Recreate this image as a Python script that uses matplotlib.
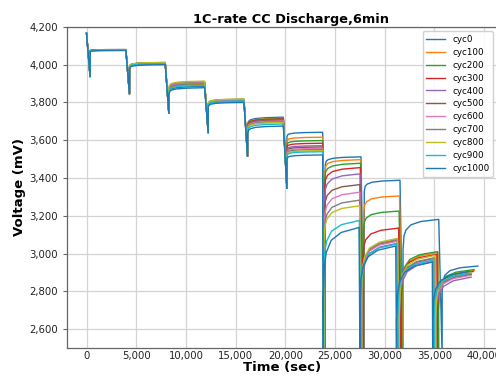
import numpy as np
import matplotlib
matplotlib.use("Agg")
import matplotlib.pyplot as plt
from matplotlib.ticker import FuncFormatter


# cycle labels (one curve each)
cycles = ['cyc0', 'cyc100', 'cyc200', 'cyc300', 'cyc400', 'cyc500',
          'cyc600', 'cyc700', 'cyc800', 'cyc900', 'cyc1000']

period = 3960       # 6 min pulse + 60 min rest [s]
pulse = 360         # pulse length for the first 6 steps [s]
rest = 3600         # rest after each pulse [s]
v_init = 4166       # OCV at t=0 [mV]
v_cut = 2450        # steps 7-10 run below the axis

# end-of-pulse voltage for steps 1-6 [mV]
v_min_early = [3937, 3845, 3743, 3640, 3515, 3345]
# gap between jump-back voltage and final rest voltage, steps 1-6 [mV]
jump_gap_early = [6, 22, 35, 25, 40, 22]

# end-of-rest voltage per cycle, steps 1..10 [mV]
rest_mv = [
    [4080, 4005, 3885, 3806, 3722, 3642, 3512, 3388, 3181, 2934],
    [4080, 4008, 3895, 3810, 3716, 3616, 3497, 3305, 3005, 2910],
    [4079, 4010, 3900, 3812, 3714, 3598, 3478, 3225, 3010, 2915],
    [4079, 4010, 3905, 3815, 3712, 3584, 3455, 3135, 2995, 2905],
    [4078, 4010, 3902, 3812, 3708, 3571, 3422, 3055, 2960, 2875],
    [4078, 4011, 3908, 3816, 3706, 3564, 3365, 3070, 2975, 2890],
    [4078, 4010, 3906, 3814, 3702, 3557, 3325, 3065, 2970, 2885],
    [4077, 4011, 3910, 3817, 3698, 3551, 3283, 3075, 2978, 2893],
    [4077, 4012, 3913, 3818, 3694, 3545, 3253, 3080, 2990, 2900],
    [4076, 4006, 3890, 3808, 3686, 3539, 3175, 3050, 2965, 2897],
    [4075, 4000, 3878, 3800, 3675, 3522, 3138, 3040, 2955, 2905],
]

# voltage right after the pulse stops, steps 7..10 [mV]
jump_late_mv = [
    [3470, 3330, 3020, 2800],
    [3440, 3220, 2760, 2700],
    [3400, 3120, 2780, 2720],
    [3340, 2960, 2760, 2700],
    [3270, 2760, 2650, 2600],
    [3200, 2780, 2680, 2640],
    [3130, 2780, 2670, 2630],
    [3070, 2790, 2690, 2650],
    [3050, 2800, 2700, 2660],
    [2860, 2750, 2660, 2640],
    [2760, 2720, 2650, 2640],
]

# pulse length until cutoff, steps 7..10 [s]
late_dur_s = [
    [255, 325, 300, 340],
    [230, 300, 280, 60],
    [210, 280, 270, 60],
    [190, 250, 250, 50],
    [160, 200, 150, 30],
    [150, 190, 170, 40],
    [140, 180, 160, 40],
    [130, 180, 170, 40],
    [120, 200, 190, 50],
    [90, 150, 120, 40],
    [60, 90, 80, 40],
]

# relaxation shape
rec_t = [5, 100, 300, 800, 1800, 3600]
rec_frac = [0.0, 0.45, 0.65, 0.82, 0.93, 1.0]


def build_curve(i):
    t = [0.0]
    v = [v_init]
    ts = 0.0
    for k in range(10):
        if k < 6:
            dur = pulse
            vmin = v_min_early[k]
            vj = rest_mv[i][k] - jump_gap_early[k]
        else:
            dur = late_dur_s[i][k - 6]
            vmin = v_cut
            vj = jump_late_mv[i][k - 6]
        t.append(ts + dur)
        v.append(vmin)
        for rt, f in zip(rec_t, rec_frac):
            t.append(ts + dur + rt)
            v.append(vj + f * (rest_mv[i][k] - vj))
        ts = ts + dur + rest
    return np.array(t), np.array(v)


fig = plt.figure(figsize=(4.96, 3.76), dpi=100)
ax = fig.add_axes([0.135, 0.0745, 0.868, 0.854])

colors = plt.rcParams['axes.prop_cycle'].by_key()['color']
for i, name in enumerate(cycles):
    t, v = build_curve(i)
    ax.plot(t, v, color=colors[i % 10], lw=1.0, label=name)

ax.set_ylim(2500, 4200)
ax.set_yticks(np.arange(2600, 4201, 200))
ax.set_xticks(np.arange(0, 40001, 5000))
comma = FuncFormatter(lambda x, p: f'{int(x):,}')
ax.xaxis.set_major_formatter(comma)
ax.yaxis.set_major_formatter(comma)

ax.grid(True, color='#d4d4d4', lw=0.9)
ax.set_axisbelow(True)
for s in ax.spines.values():
    s.set_color('#666666')
    s.set_linewidth(0.9)
ax.tick_params(axis='both', labelsize=7.3, colors='#222222', length=3, color='#666666')
ax.tick_params(axis='x', length=0, pad=2)

ax.set_title('1C-rate CC Discharge,6min', fontsize=9.3, fontweight='bold', pad=3, x=0.52)
ax.set_xlabel('Time (sec)', fontsize=9.5, fontweight='bold', labelpad=0)
ax.set_ylabel('Voltage (mV)', fontsize=9.5, fontweight='bold', labelpad=2)

ax.legend(loc='upper right', fontsize=6.3, labelspacing=0.45, borderaxespad=0.5,
          handlelength=2.2, framealpha=0.9)

fig.savefig('out.png', dpi=100)
